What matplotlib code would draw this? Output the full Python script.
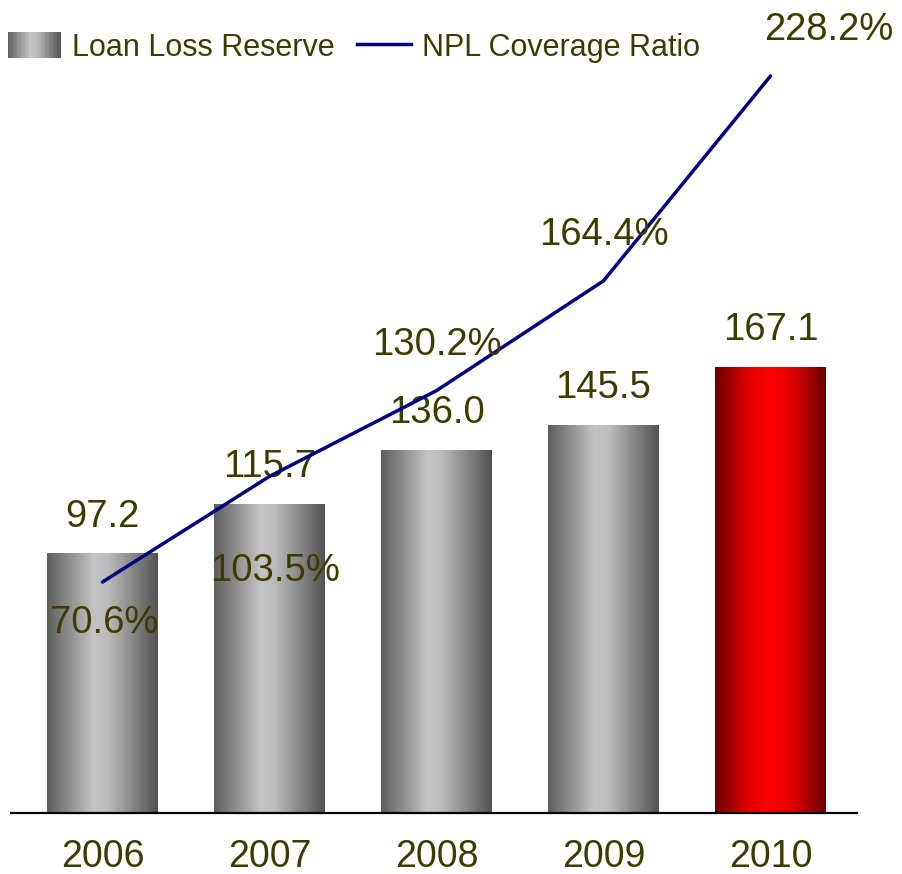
import numpy as np
import matplotlib
matplotlib.use("Agg")
import matplotlib.pyplot as plt
from matplotlib.colors import LinearSegmentedColormap
from matplotlib.patches import Rectangle
from matplotlib.lines import Line2D
from matplotlib.legend_handler import HandlerBase

years = ["2006", "2007", "2008", "2009", "2010"]
reserve = [97.2, 115.7, 136.0, 145.5, 167.1]
coverage = [70.6, 103.5, 130.2, 164.4, 228.2]

text_color = "#3c3c00"
line_color = "#000080"
plt.rcParams["font.family"] = ["Liberation Sans", "DejaVu Sans"]

grey_cmap = LinearSegmentedColormap.from_list(
    "grey_bar", [(0, "#5e5e5e"), (0.42, "#c4c4c4"), (0.55, "#bcbcbc"), (1, "#525252")])
red_cmap = LinearSegmentedColormap.from_list(
    "red_bar", [(0, "#6e0000"), (0.3, "#e00000"), (0.5, "#ff0000"), (0.7, "#e00000"), (1, "#6a0000")])


class GradientHandler(HandlerBase):
    def __init__(self, cmap, n=40):
        super().__init__()
        self.cmap = cmap
        self.n = n

    def create_artists(self, legend, orig_handle, xdescent, ydescent,
                       width, height, fontsize, trans):
        step = width / self.n
        arts = []
        for i in range(self.n):
            r = Rectangle((-xdescent + i * step, -ydescent), step * 1.05, height,
                          facecolor=self.cmap((i + 0.5) / self.n), edgecolor="none",
                          transform=trans)
            arts.append(r)
        return arts


fig = plt.figure(figsize=(9.02, 8.74), dpi=100)
ax = fig.add_axes([11 / 902, 61 / 874, 846 / 902, 813 / 874])
ax2 = ax.twinx()

x = np.arange(len(years))
width = 0.66
bars = ax.bar(x, reserve, width, color="none", edgecolor="none", zorder=2)

gradient = np.linspace(0, 1, 256).reshape(1, -1)
for i, b in enumerate(bars):
    cmap = red_cmap if i == len(bars) - 1 else grey_cmap
    x0 = b.get_x()
    im = ax.imshow(gradient, cmap=cmap, aspect="auto", zorder=2,
                   extent=(x0, x0 + b.get_width(), 0, b.get_height()))
    im.set_clip_path(b)
    ax.annotate(f"{reserve[i]:.1f}", (x[i], reserve[i]), xytext=(0, 26.5),
                textcoords="offset points", ha="center", va="center",
                fontsize=27.5, color=text_color, zorder=5)

ax.set_xlim(-0.548, 4.518)
ax.set_ylim(0, 304.5)
ax.set_xticks(x)
ax.set_xticklabels(years, fontsize=27, color=text_color)
ax.tick_params(axis="x", length=0, pad=19)
ax.set_yticks([])
for s in ["top", "left", "right"]:
    ax.spines[s].set_visible(False)
ax.spines["bottom"].set_linewidth(1.6)

ax2.plot(x, coverage, color=line_color, linewidth=2.5, zorder=4, solid_capstyle="round")
ax2.set_ylim(-1.35, 251.87)
ax2.set_yticks([])
for s in ax2.spines.values():
    s.set_visible(False)

pct_offsets = [(1.5, -29.5), (4, -68), (0, 33), (0, 33), (42, 33)]
for i, v in enumerate(coverage):
    ax2.annotate(f"{v:.1f}%", (x[i], v), xytext=pct_offsets[i],
                 textcoords="offset points", ha="center", va="center",
                 fontsize=27.5, color=text_color, zorder=6)

patch_handle = Rectangle((0, 0), 1, 1)
line_handle = Line2D([], [], color=line_color, linewidth=2.5)
leg = fig.legend([patch_handle, line_handle], ["Loan Loss Reserve", "NPL Coverage Ratio"],
                 handler_map={patch_handle: GradientHandler(grey_cmap)},
                 loc="upper left", bbox_to_anchor=(0.0, 0.972), ncol=2, frameon=False,
                 fontsize=22, handlelength=1.75, handleheight=0.95, handletextpad=0.35,
                 columnspacing=0.75, borderaxespad=0.0, borderpad=0.25)
for t in leg.get_texts():
    t.set_color(text_color)

fig.savefig("out.png", dpi=100)
